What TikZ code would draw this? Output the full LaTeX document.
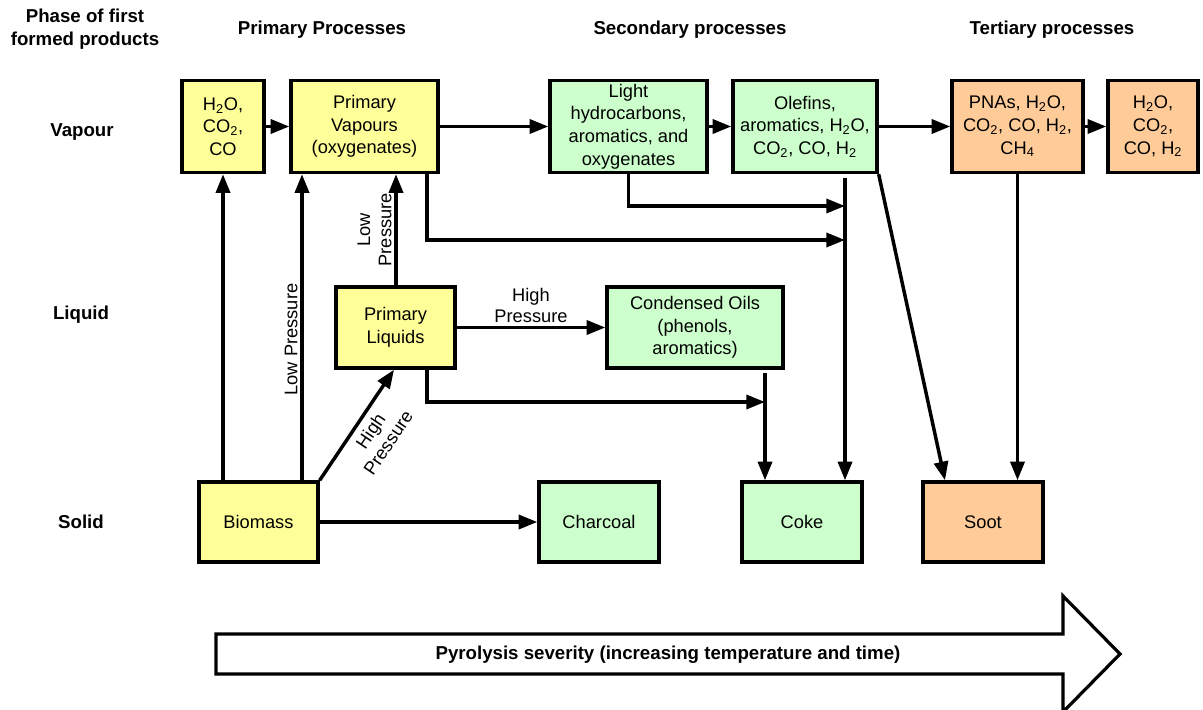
\documentclass[tikz,border=0pt]{standalone}
\usepackage{fontspec}
\setmainfont{Liberation Sans}
\usetikzlibrary{arrows.meta}

\definecolor{boxyellow}{HTML}{FFFF99}
\definecolor{boxgreen}{HTML}{CCFFCC}
\definecolor{boxorange}{HTML}{FFCC99}

\newcommand{\sub}[1]{\textsubscript{#1}}

\begin{document}
\begin{tikzpicture}[x=0.75pt,y=-0.75pt,
  box/.style={draw, line width=2.5pt, align=center, inner sep=0pt,
    font=\fontsize{13.7}{17}\selectfont},
  size/.style 2 args={minimum width=#1*0.75pt, minimum height=#2*0.75pt},
  yel/.style={box, fill=boxyellow},
  grn/.style={box, fill=boxgreen},
  org/.style={box, fill=boxorange},
  ln/.style={line width=2.6pt},
  arr/.style={ln, -{Triangle[length=14pt,width=10.5pt]}},
  hdr/.style={font=\bfseries\fontsize{14}{17}\selectfont},
  lbl/.style={font=\fontsize{13.7}{16}\selectfont, align=center, inner sep=2pt}]

\useasboundingbox (0,0) rectangle (1203,710);

% column and row headings
\node[hdr, align=center] (hphase) at (85,29) {Phase of first\\formed products};
\node[hdr] (hprim) at (322,30) {Primary Processes};
\node[hdr] (hsec) at (690,30) {Secondary processes};
\node[hdr] (hter) at (1052,30) {Tertiary processes};
\node[hdr] (rvap) at (82,132) {Vapour};
\node[hdr] (rliq) at (81,315) {Liquid};
\node[hdr] (rsol) at (81,522) {Solid};

% vapour row
\node[yel, size={82}{92}] (h2oA) at (223,126.5) {H\sub{2}O,\\CO\sub{2},\\CO};
\node[yel, size={147}{92}] (pv) at (364.5,126.5) {Primary\\Vapours\\(oxygenates)};
\node[grn, size={157}{92}] (light) at (628.5,126.5) {Light\\hydrocarbons,\\aromatics, and\\oxygenates};
\node[grn, size={144}{92}] (olef) at (805,126.5) {Olefins,\\aromatics, H\sub{2}O,\\CO\sub{2}, CO, H\sub{2}};
\node[org, size={131}{92}] (pnas) at (1017.5,126.5) {PNAs, H\sub{2}O,\\CO\sub{2}, CO, H\sub{2},\\CH\sub{4}};
\node[org, size={90}{92}] (h2oB) at (1153,126.5) {H\sub{2}O,\\CO\sub{2},\\CO, H\sub{2}};

% liquid row
\node[yel, size={119}{81}] (pliq) at (395.5,327.5) {Primary\\Liquids};
\node[grn, size={176}{81}] (coil) at (695,327.5) {Condensed Oils\\(phenols,\\aromatics)};

% solid row
\node[yel, size={119}{80}] (bio) at (258.5,522) {Biomass};
\node[grn, size={120}{80}] (char) at (599,522) {Charcoal};
\node[grn, size={120}{80}] (coke) at (802,522) {Coke};
\node[org, size={120}{80}] (soot) at (983,522) {Soot};

% helper points for routed connectors
\coordinate (xlp) at (302,0);
\coordinate (xpv) at (427,0);
\coordinate (xpl) at (427,0);
\coordinate (jv1) at (845,206);
\coordinate (jv2) at (845,240);
\coordinate (ostart) at (845,178);
\coordinate (cstart) at (765,373);
\coordinate (jl) at (765,402);
\coordinate (xsoot) at (945,0);
\coordinate (xpq) at (396,0);
\coordinate (xhp) at (394,0);

% from biomass
\draw[arr] (bio.north -| h2oA.south) -- (h2oA.south);
\draw[arr] (bio.north -| xlp) -- (pv.south -| xlp)
  node[lbl, pos=0.46, sloped, above] {Low Pressure};
\draw[arr] (bio.north east) -- (pliq.south -| xhp)
  node[lbl, pos=0.52, sloped, below, inner sep=4.5pt] {High\\Pressure};
\draw[arr] (bio.east) -- (char.west);

% from primary liquids
\draw[arr] (pliq.north -| xpq) -- (pv.south -| xpq)
  node[lbl, pos=0.5, sloped, above] {Low\\Pressure};
\draw[arr] (pliq.east) -- (coil.west)
  node[lbl, midway, above] {High\\Pressure};
\draw[arr] (pliq.south -| xpl) |- (jl);

% vapour chain
\draw[arr] (h2oA.east) -- (pv.west);
\draw[arr] (pv.east) -- (light.west);
\draw[arr] (light.east) -- (olef.west);
\draw[arr] (olef.east) -- (pnas.west);
\draw[arr] (pnas.east) -- (h2oB.west);

% vapours feeding the coke line
\draw[arr] (pv.south -| xpv) |- (jv2);
\draw[arr] (light.south) |- (jv1);
\draw[arr] (ostart) -- (coke.north -| ostart);
\draw[arr] (cstart) -- (coke.north -| cstart);

% soot formation
\draw[arr] (olef.south east) -- (soot.north -| xsoot);
\draw[arr] (pnas.south) -- (pnas.south |- soot.north);

% severity arrow
\draw[line width=2.4pt, line join=miter, fill=white]
  (216,634) -- (1063,634) -- (1063,596) -- (1120,654) -- (1063,712)
  -- (1063,674) -- (216,674) -- cycle;
\node[hdr] (sev) at (668,655) {Pyrolysis severity (increasing temperature and time)};
\end{tikzpicture}
\end{document}
